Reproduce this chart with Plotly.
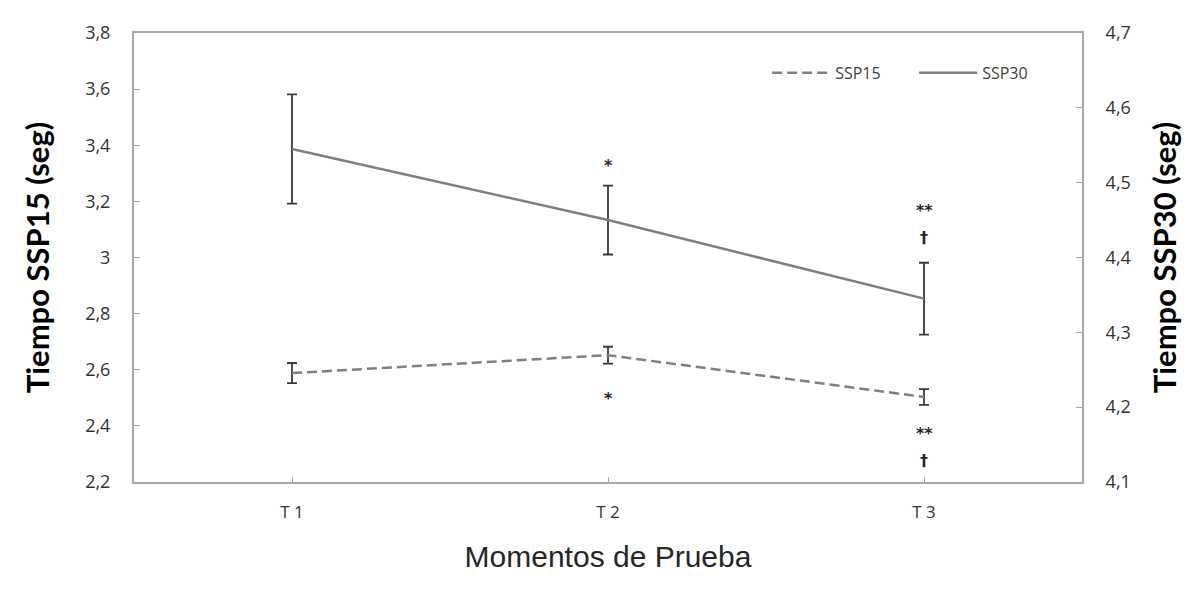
import plotly.graph_objects as go

categories = ["T 1", "T 2", "T 3"]
ssp15 = [2.588, 2.652, 2.503]
ssp15_err = [0.036, 0.030, 0.028]
ssp30 = [4.545, 4.450, 4.345]
ssp30_err = [0.073, 0.046, 0.048]

y1_ticks = [2.2, 2.4, 2.6, 2.8, 3.0, 3.2, 3.4, 3.6, 3.8]
y1_labels = ["2,2", "2,4", "2,6", "2,8", "3", "3,2", "3,4", "3,6", "3,8"]
y2_ticks = [4.1, 4.2, 4.3, 4.4, 4.5, 4.6, 4.7]
y2_labels = ["4,1", "4,2", "4,3", "4,4", "4,5", "4,6", "4,7"]

# significance marks: text, category, position on the left axis
marks_text = ["*", "*", "**", "†", "**", "†"]
marks_cat = ["T 2", "T 2", "T 3", "T 3", "T 3", "T 3"]
marks_y = [3.347, 2.517, 3.187, 3.073, 2.392, 2.275]

line_col = "#7f7f7f"
err_col = "#3a3a3a"

fig = go.Figure()
fig.add_trace(go.Scatter(
    x=categories, y=ssp15, name="SSP15", mode="lines",
    line=dict(color=line_col, width=2.5, dash="10px,5px"),
    error_y=dict(type="data", array=ssp15_err, color=err_col, thickness=1.8, width=5),
))
fig.add_trace(go.Scatter(
    x=categories, y=ssp30, name="SSP30", mode="lines", yaxis="y2",
    line=dict(color=line_col, width=2.5),
    error_y=dict(type="data", array=ssp30_err, color=err_col, thickness=1.8, width=5),
))

for t, c, y in zip(marks_text, marks_cat, marks_y):
    fig.add_annotation(x=c, y=y, text="<b>" + t + "</b>", showarrow=False, xref="x", yref="y",
                       yshift=-5 if "*" in t else 0,
                       font=dict(family="DejaVu Sans", size=16, color="#262626"))

axis_line = "#a6a6a6"
tick_font = dict(family="Open Sans", size=18, color="#333333")
fig.update_layout(
    width=1193, height=581,
    margin=dict(l=126, r=119, t=25, b=107),
    paper_bgcolor="white", plot_bgcolor="white",
    separators=",.",
    showlegend=True,
    legend=dict(orientation="h", x=0.978, xanchor="right", y=0.911, yanchor="middle",
                bgcolor="rgba(0,0,0,0)", font=dict(family="Open Sans", size=16, color="#404040"),
                itemwidth=58, entrywidth=74, tracegroupgap=0),
    xaxis=dict(range=[-0.5, 2.5], showline=True, linecolor=axis_line, linewidth=2, mirror=True,
               showgrid=False, zeroline=False, ticks="inside", ticklen=5, tickcolor=axis_line,
               ticklabelstandoff=14, tickfont=dict(family="Open Sans", size=17, color="#333333"),
               title=dict(text="Momentos de Prueba", standoff=24,
                          font=dict(family="Liberation Sans", size=30, color="#262626"))),
    yaxis=dict(range=[2.2, 3.8], tickvals=y1_ticks, ticktext=y1_labels,
               showline=True, linecolor=axis_line, linewidth=2, showgrid=False, zeroline=False,
               ticks="inside", ticklen=6, tickcolor=axis_line, ticklabelstandoff=18,
               tickfont=tick_font,
               title=dict(text="<b>Tiempo SSP15 (seg)</b>", standoff=26,
                          font=dict(family="Lato", size=31, color="black"))),
    yaxis2=dict(range=[4.1, 4.7], tickvals=y2_ticks, ticktext=y2_labels, overlaying="y", side="right",
                showline=True, linecolor=axis_line, linewidth=2, showgrid=False, zeroline=False,
                ticks="inside", ticklen=6, tickcolor=axis_line, ticklabelstandoff=18,
                tickfont=tick_font,
                title=dict(text="<b>Tiempo SSP30 (seg)</b>", standoff=24,
                           font=dict(family="Lato", size=31, color="black"))),
)

fig.write_html("out.html")
